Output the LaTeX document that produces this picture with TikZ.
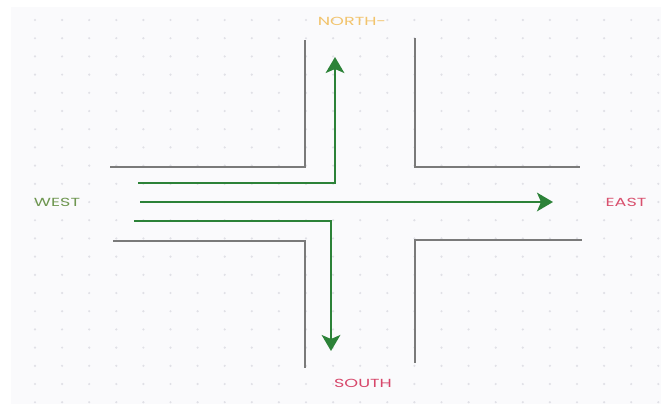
\documentclass[tikz,border=0pt]{standalone}
\usepackage{fontspec}
\setmainfont{Poppins}
\usetikzlibrary{arrows.meta}

\definecolor{paper}{HTML}{FAFAFC}
\definecolor{dotgrid}{HTML}{E0E0E6}
\definecolor{road}{HTML}{7A7A7A}
\definecolor{route}{HTML}{2C8238}
\definecolor{northcol}{HTML}{F2C46D}
\definecolor{westcol}{HTML}{6E9650}
\definecolor{eastcol}{HTML}{D9506E}
\definecolor{southcol}{HTML}{D7466A}

\tikzset{
  kerb/.style={road, line width=1.5pt},
  lane/.style={route, line width=1.6pt, ->},
  dirlabel/.style={font=\fontsize{8.8}{10}\selectfont, xscale=1.5, inner sep=0pt}
}

\begin{document}
\begin{tikzpicture}[x=0.75pt, y=-0.75pt, >={Stealth[length=12pt,width=14pt,inset=3pt]}]
    % --- canvas and dotted grid ---
    \useasboundingbox (0,0) rectangle (661,404);
    \fill[paper] (11,7) rectangle (661,404);
    \foreach \i in {0,...,23}
      \foreach \j in {0,...,21}
        \fill[dotgrid] ({35+27.1*\i},{20+18.2*\j}) circle (0.9pt);

    % --- road edges of the crossing ---
    \draw[kerb] (110,167) -- (305,167) -- (305,40);
    \draw[kerb] (415,38) -- (415,167) -- (580,167);
    \draw[kerb] (113,241) -- (305,241) -- (305,368);
    \draw[kerb] (415,363) -- (415,240) -- (582,240);

    % --- end points of the three routes ---
    \coordinate (wn) at (138,183);
    \coordinate (cn) at (335,183);
    \coordinate (n)  at (335,57);
    \coordinate (we) at (140,202);
    \coordinate (e)  at (553,202);
    \coordinate (ws) at (134,221);
    \coordinate (cs) at (331,221);
    \coordinate (s)  at (331,351);

    % turn left, straight on, turn right
    \draw[lane] (wn) -- (cn) -- (n);
    \draw[lane] (we) -- (e);
    \draw[lane] (ws) -- (cs) -- (s);

    % --- compass labels ---
    \node[dirlabel, text=northcol] (northlbl) at (352,21) {NORTH-};
    \node[dirlabel, text=westcol]  (westlbl)  at (57,202) {WEST};
    \node[dirlabel, text=eastcol]  (eastlbl)  at (626,202) {EAST};
    \node[dirlabel, text=southcol] (southlbl) at (363,383) {SOUTH};
\end{tikzpicture}
\end{document}
